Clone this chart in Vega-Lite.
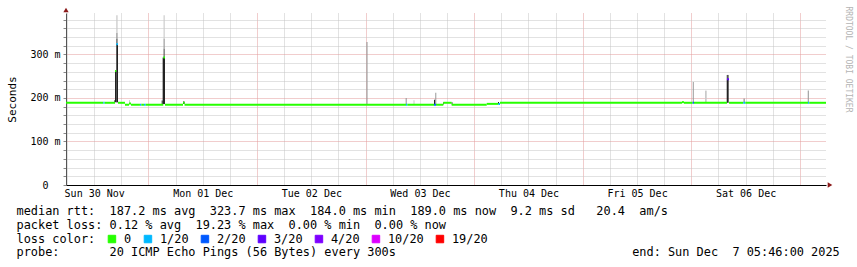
{
  "$schema": "https://vega.github.io/schema/vega-lite/v6.json",
  "width": 760,
  "height": 172,
  "autosize": {"type": "none"},
  "padding": {"left": 66, "top": 13, "right": 31, "bottom": 82},
  "background": "white",
  "config": {"view": {"stroke": null}, "font": "DejaVu Sans Mono"},
  "datasets": {
    "median": [
      {"t0": "2025-11-30T05:46:00Z", "t1": "2025-11-30T14:01:00Z", "ms": 189, "loss": "0"},
      {"t0": "2025-11-30T14:01:00Z", "t1": "2025-11-30T14:19:00Z", "ms": 189, "loss": "1/20"},
      {"t0": "2025-11-30T14:19:00Z", "t1": "2025-11-30T16:36:00Z", "ms": 189, "loss": "0"},
      {"t0": "2025-11-30T16:36:00Z", "t1": "2025-11-30T16:53:00Z", "ms": 262, "loss": "0"},
      {"t0": "2025-11-30T16:53:00Z", "t1": "2025-11-30T17:16:00Z", "ms": 323.7, "loss": "1/20"},
      {"t0": "2025-11-30T17:16:00Z", "t1": "2025-11-30T18:48:00Z", "ms": 189, "loss": "0"},
      {"t0": "2025-11-30T18:48:00Z", "t1": "2025-11-30T19:42:00Z", "ms": 184.5, "loss": "0"},
      {"t0": "2025-11-30T19:42:00Z", "t1": "2025-11-30T20:08:00Z", "ms": 187.5, "loss": "0"},
      {"t0": "2025-11-30T20:08:00Z", "t1": "2025-11-30T22:07:00Z", "ms": 184.5, "loss": "0"},
      {"t0": "2025-11-30T22:07:00Z", "t1": "2025-11-30T22:25:00Z", "ms": 184.5, "loss": "1/20"},
      {"t0": "2025-11-30T22:25:00Z", "t1": "2025-11-30T23:00:00Z", "ms": 184.5, "loss": "0"},
      {"t0": "2025-11-30T23:00:00Z", "t1": "2025-11-30T23:23:00Z", "ms": 184.5, "loss": "1/20"},
      {"t0": "2025-11-30T23:23:00Z", "t1": "2025-12-01T03:16:00Z", "ms": 184.5, "loss": "0"},
      {"t0": "2025-12-01T03:16:00Z", "t1": "2025-12-01T03:39:00Z", "ms": 293, "loss": "0"},
      {"t0": "2025-12-01T03:39:00Z", "t1": "2025-12-01T07:38:00Z", "ms": 184.5, "loss": "0"},
      {"t0": "2025-12-01T07:38:00Z", "t1": "2025-12-01T07:58:00Z", "ms": 189, "loss": "0"},
      {"t0": "2025-12-01T07:58:00Z", "t1": "2025-12-03T08:55:00Z", "ms": 184.5, "loss": "0"},
      {"t0": "2025-12-03T08:55:00Z", "t1": "2025-12-03T09:13:00Z", "ms": 184.5, "loss": "1/20"},
      {"t0": "2025-12-03T09:13:00Z", "t1": "2025-12-03T15:07:00Z", "ms": 184.5, "loss": "0"},
      {"t0": "2025-12-03T15:07:00Z", "t1": "2025-12-03T15:33:00Z", "ms": 184.5, "loss": "2/20"},
      {"t0": "2025-12-03T15:33:00Z", "t1": "2025-12-03T17:10:00Z", "ms": 184.5, "loss": "0"},
      {"t0": "2025-12-03T17:10:00Z", "t1": "2025-12-03T19:01:00Z", "ms": 189, "loss": "0"},
      {"t0": "2025-12-03T19:01:00Z", "t1": "2025-12-04T02:46:00Z", "ms": 184.5, "loss": "0"},
      {"t0": "2025-12-04T02:46:00Z", "t1": "2025-12-04T05:20:00Z", "ms": 186.5, "loss": "0"},
      {"t0": "2025-12-04T05:20:00Z", "t1": "2025-12-04T05:42:00Z", "ms": 186, "loss": "1/20"},
      {"t0": "2025-12-04T05:42:00Z", "t1": "2025-12-05T21:56:00Z", "ms": 189, "loss": "0"},
      {"t0": "2025-12-05T21:56:00Z", "t1": "2025-12-05T22:22:00Z", "ms": 190.5, "loss": "0"},
      {"t0": "2025-12-05T22:22:00Z", "t1": "2025-12-06T00:18:00Z", "ms": 189, "loss": "0"},
      {"t0": "2025-12-06T00:18:00Z", "t1": "2025-12-06T00:35:00Z", "ms": 189, "loss": "2/20"},
      {"t0": "2025-12-06T00:35:00Z", "t1": "2025-12-06T07:53:00Z", "ms": 189, "loss": "0"},
      {"t0": "2025-12-06T07:53:00Z", "t1": "2025-12-06T08:19:00Z", "ms": 243, "loss": "3/20"},
      {"t0": "2025-12-06T08:19:00Z", "t1": "2025-12-06T11:29:00Z", "ms": 189, "loss": "0"},
      {"t0": "2025-12-06T11:29:00Z", "t1": "2025-12-06T11:56:00Z", "ms": 189, "loss": "1/20"},
      {"t0": "2025-12-06T11:56:00Z", "t1": "2025-12-07T01:47:00Z", "ms": 189, "loss": "0"},
      {"t0": "2025-12-07T01:47:00Z", "t1": "2025-12-07T02:04:00Z", "ms": 189, "loss": "1/20"},
      {"t0": "2025-12-07T02:04:00Z", "t1": "2025-12-07T05:46:00Z", "ms": 189, "loss": "0"}
    ],
    "smoke": [
      {"t0": "2025-11-30T16:27:00Z", "t1": "2025-11-30T16:36:00Z", "lo": 189, "hi": 195, "shade": "dense"},
      {"t0": "2025-11-30T16:36:00Z", "t1": "2025-11-30T16:53:00Z", "lo": 190, "hi": 262, "shade": "dense"},
      {"t0": "2025-11-30T16:53:00Z", "t1": "2025-11-30T17:16:00Z", "lo": 190, "hi": 325, "shade": "dense"},
      {"t0": "2025-11-30T16:53:00Z", "t1": "2025-11-30T17:10:00Z", "lo": 325, "hi": 337, "shade": "dark"},
      {"t0": "2025-11-30T16:53:00Z", "t1": "2025-11-30T17:10:00Z", "lo": 337, "hi": 350, "shade": "mid"},
      {"t0": "2025-11-30T16:53:00Z", "t1": "2025-11-30T17:10:00Z", "lo": 350, "hi": 390, "shade": "light"},
      {"t0": "2025-11-30T19:42:00Z", "t1": "2025-11-30T19:55:00Z", "lo": 189, "hi": 195, "shade": "light"},
      {"t0": "2025-12-01T02:55:00Z", "t1": "2025-12-01T03:08:00Z", "lo": 186, "hi": 194, "shade": "dense"},
      {"t0": "2025-12-01T03:08:00Z", "t1": "2025-12-01T03:39:00Z", "lo": 186, "hi": 293, "shade": "dense"},
      {"t0": "2025-12-01T03:20:00Z", "t1": "2025-12-01T03:35:00Z", "lo": 293, "hi": 314, "shade": "dark"},
      {"t0": "2025-12-01T03:20:00Z", "t1": "2025-12-01T03:35:00Z", "lo": 314, "hi": 337, "shade": "mid"},
      {"t0": "2025-12-01T03:20:00Z", "t1": "2025-12-01T03:35:00Z", "lo": 337, "hi": 390, "shade": "light"},
      {"t0": "2025-12-01T07:38:00Z", "t1": "2025-12-01T07:58:00Z", "lo": 186, "hi": 192, "shade": "dense"},
      {"t0": "2025-12-03T00:11:00Z", "t1": "2025-12-03T00:25:00Z", "lo": 186, "hi": 329, "shade": "mid"},
      {"t0": "2025-12-03T08:51:00Z", "t1": "2025-12-03T09:05:00Z", "lo": 186, "hi": 200, "shade": "mid"},
      {"t0": "2025-12-03T10:35:00Z", "t1": "2025-12-03T10:48:00Z", "lo": 186, "hi": 195, "shade": "light"},
      {"t0": "2025-12-03T15:07:00Z", "t1": "2025-12-03T15:24:00Z", "lo": 186, "hi": 196, "shade": "dense"},
      {"t0": "2025-12-03T15:24:00Z", "t1": "2025-12-03T15:37:00Z", "lo": 186, "hi": 212, "shade": "mid"},
      {"t0": "2025-12-03T17:10:00Z", "t1": "2025-12-03T17:19:00Z", "lo": 185, "hi": 190, "shade": "dense"},
      {"t0": "2025-12-03T19:01:00Z", "t1": "2025-12-03T19:12:00Z", "lo": 185, "hi": 190, "shade": "dense"},
      {"t0": "2025-12-04T05:16:00Z", "t1": "2025-12-04T05:29:00Z", "lo": 186, "hi": 191, "shade": "dense"},
      {"t0": "2025-12-06T00:19:00Z", "t1": "2025-12-06T00:32:00Z", "lo": 189, "hi": 237, "shade": "mid"},
      {"t0": "2025-12-06T03:01:00Z", "t1": "2025-12-06T03:24:00Z", "lo": 189, "hi": 217, "shade": "light"},
      {"t0": "2025-12-06T07:49:00Z", "t1": "2025-12-06T08:15:00Z", "lo": 189, "hi": 243, "shade": "dense"},
      {"t0": "2025-12-06T07:49:00Z", "t1": "2025-12-06T08:15:00Z", "lo": 243, "hi": 253, "shade": "dark"},
      {"t0": "2025-12-06T11:32:00Z", "t1": "2025-12-06T11:49:00Z", "lo": 189, "hi": 199, "shade": "mid"},
      {"t0": "2025-12-07T01:44:00Z", "t1": "2025-12-07T01:58:00Z", "lo": 189, "hi": 217, "shade": "mid"}
    ]
  },
  "layer": [
    {
      "data": {"values": [{}]},
      "mark": {"type": "point", "shape": "triangle-up", "filled": true, "color": "#8b1a1a", "opacity": 1, "size": 28, "yOffset": -3},
      "encoding": {
        "x": {
          "datum": 1764481560000,
          "type": "temporal",
          "scale": {"type": "utc", "domain": [1764481560000, 1765086360000]},
          "axis": {
            "orient": "bottom",
            "title": null,
            "values": [1764482400000, 1764504000000, 1764525600000, 1764568800000, 1764590400000, 1764612000000, 1764655200000, 1764676800000, 1764698400000, 1764741600000, 1764763200000, 1764784800000, 1764828000000, 1764849600000, 1764871200000, 1764914400000, 1764936000000, 1764957600000, 1765000800000, 1765022400000, 1765044000000],
            "labels": false,
            "ticks": false,
            "domain": false,
            "grid": true,
            "gridDash": [1, 1],
            "gridColor": "#c4c4c4",
            "gridOpacity": 1
          }
        },
        "y": {
          "datum": 395.4,
          "type": "quantitative",
          "scale": {"domain": [0, 395.4], "nice": false, "zero": true},
          "axis": {
            "orient": "left",
            "title": "Seconds",
            "titleFont": "DejaVu Sans Mono",
            "titleFontSize": 11,
            "titleFontWeight": "normal",
            "titleColor": "#000000",
            "titleAngle": 270,
            "titleX": -54,
            "titleY": 86,
            "titleAlign": "center",
            "titleBaseline": "middle",
            "values": [0, 20, 40, 60, 80, 100, 120, 140, 160, 180, 200, 220, 240, 260, 280, 300, 320, 340, 360, 380],
            "labelExpr": "datum.value % 100 == 0 ? (datum.value == 0 ? '0' : datum.value + ' m') : ''",
            "labelFont": "DejaVu Sans Mono",
            "labelFontSize": 10,
            "labelColor": "#000000",
            "labelPadding": {"condition": {"test": "datum.value == 0", "value": 15}, "value": 3},
            "labelFlush": false,
            "labelOverlap": false,
            "ticks": true,
            "tickSize": 3,
            "tickColor": "#888888",
            "domainColor": "#555555",
            "grid": true,
            "gridDash": [1, 1],
            "gridColor": {"condition": {"test": "datum.value % 100 == 0", "value": "#e29a9a"}, "value": "#c4c4c4"}
          }
        }
      }
    },
    {
      "data": {"name": "smoke"},
      "mark": {"type": "rect", "strokeWidth": 0},
      "encoding": {
        "x": {
          "field": "t0",
          "type": "temporal",
          "axis": {
            "orient": "bottom",
            "title": null,
            "values": [1764547200000, 1764633600000, 1764720000000, 1764806400000, 1764892800000, 1764979200000, 1765065600000],
            "labels": false,
            "ticks": false,
            "domain": false,
            "grid": true,
            "gridDash": [1, 1],
            "gridColor": "#e29a9a",
            "gridOpacity": 1
          }
        },
        "x2": {"field": "t1"},
        "y": {"field": "lo", "type": "quantitative", "axis": null},
        "y2": {"field": "hi"},
        "fill": {
          "field": "shade",
          "type": "nominal",
          "scale": {"domain": ["dense", "dark", "mid", "light"], "range": ["#222222", "#555555", "#959595", "#cacaca"]},
          "legend": null
        }
      }
    },
    {
      "data": {"name": "median"},
      "mark": {"type": "rule", "strokeWidth": 2},
      "encoding": {
        "x": {"field": "t0", "type": "temporal", "axis": null},
        "x2": {"field": "t1"},
        "y": {"field": "ms", "type": "quantitative", "axis": null},
        "color": {
          "field": "loss",
          "type": "nominal",
          "scale": {
            "domain": ["0", "1/20", "2/20", "3/20", "4/20", "10/20", "19/20"],
            "range": ["#26ff00", "#00b8ff", "#0059ff", "#5e00ff", "#7e00ff", "#dd00ff", "#ff0000"]
          },
          "legend": {
            "orient": "none",
            "legendX": 40,
            "legendY": 220,
            "direction": "horizontal",
            "columns": 7,
            "title": null,
            "padding": 0,
            "symbolType": "square",
            "symbolSize": 56,
            "symbolStrokeWidth": 1,
            "symbolStrokeColor": "#000000",
            "labelFont": "DejaVu Sans Mono",
            "labelFontSize": 11.9,
            "labelColor": "#000000",
            "labelOffset": 6,
            "columnPadding": 10,
            "encode": {
              "symbols": {
                "update": {
                  "fill": {"scale": "color", "field": "value"},
                  "stroke": {"value": "#000000"},
                  "strokeWidth": {"value": 1},
                  "opacity": {"value": 1}
                }
              }
            }
          }
        }
      }
    },
    {
      "data": {"values": [{}]},
      "mark": {"type": "point", "shape": "triangle-right", "filled": true, "color": "#8b1a1a", "opacity": 1, "size": 28, "xOffset": 4},
      "encoding": {
        "x": {
          "datum": 1765086360000,
          "type": "temporal",
          "axis": {
            "orient": "bottom",
            "title": [
              "median rtt:\u00a0\u00a0187.2 ms avg\u00a0\u00a0323.7 ms max\u00a0\u00a0184.0 ms min\u00a0\u00a0189.0 ms now\u00a0\u00a09.2 ms sd\u00a0\u00a0\u00a020.4\u00a0\u00a0am/s",
              "packet loss: 0.12 % avg\u00a0\u00a019.23 % max\u00a0\u00a00.00 % min\u00a0\u00a00.00 % now",
              "loss color:",
              "probe:\u00a0\u00a0\u00a0\u00a0\u00a0\u00a0\u00a020 ICMP Echo Pings (56 Bytes) every 300s\u00a0\u00a0\u00a0\u00a0\u00a0\u00a0\u00a0\u00a0\u00a0\u00a0\u00a0\u00a0\u00a0\u00a0\u00a0\u00a0\u00a0\u00a0\u00a0\u00a0\u00a0\u00a0\u00a0\u00a0\u00a0\u00a0\u00a0\u00a0\u00a0\u00a0\u00a0\u00a0\u00a0end: Sun Dec\u00a0\u00a07 05:46:00 2025"
            ],
            "titleFont": "DejaVu Sans Mono",
            "titleFontSize": 11.9,
            "titleFontWeight": "normal",
            "titleColor": "#000000",
            "titleAlign": "left",
            "titleAnchor": "start",
            "titleBaseline": "top",
            "titleLineHeight": 13.8,
            "titleX": -50,
            "titleY": 20.5,
            "values": [1764504000000, 1764590400000, 1764676800000, 1764763200000, 1764849600000, 1764936000000, 1765022400000],
            "labelExpr": "utcFormat(datum.value, '%a %d %b')",
            "labelFont": "DejaVu Sans Mono",
            "labelFontSize": 10,
            "labelColor": "#000000",
            "labelPadding": 3,
            "labelFlush": false,
            "labelOverlap": false,
            "ticks": false,
            "domain": true,
            "domainColor": "#000000",
            "domainWidth": 1,
            "grid": false
          }
        },
        "y": {
          "datum": 0,
          "type": "quantitative",
          "axis": {
            "orient": "right",
            "title": "RRDTOOL / TOBI OETIKER",
            "titleFont": "DejaVu Sans Mono",
            "titleFontSize": 8,
            "titleFontWeight": "normal",
            "titleColor": "#b4b4b4",
            "titleAngle": 90,
            "titleX": 21,
            "titleY": 46,
            "titleAlign": "center",
            "titleBaseline": "middle",
            "labels": false,
            "ticks": false,
            "domain": false,
            "grid": false
          }
        }
      }
    }
  ],
  "resolve": {"axis": {"x": "independent", "y": "independent"}}
}
